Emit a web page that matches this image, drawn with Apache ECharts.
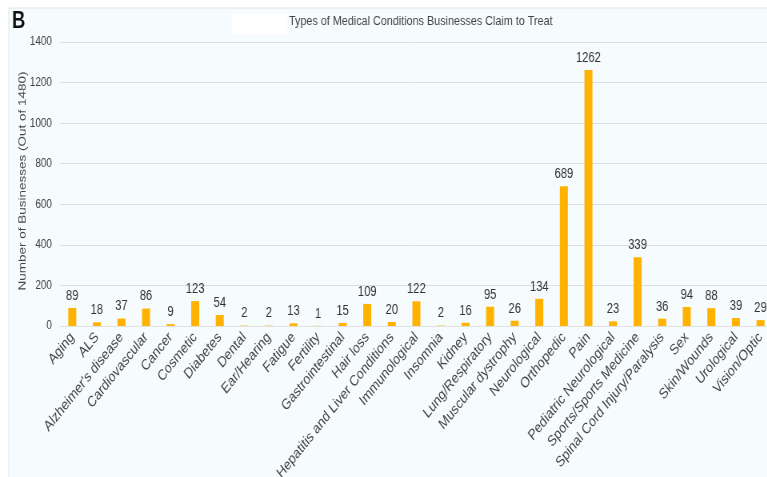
<!DOCTYPE html>
<html><head><meta charset="utf-8">
<script src="https://cdn.jsdelivr.net/npm/echarts@6/dist/echarts.min.js"></script>
<style>html,body{margin:0;padding:0;background:#fff;overflow:hidden;width:767px;height:477px}
#c{width:959px;height:477px;transform:scaleX(0.8);transform-origin:0 0}</style>
</head><body><div id="c"></div>
<script>
const categories = ["Aging","ALS","Alzheimer's disease","Cardiovascular","Cancer","Cosmetic","Diabetes","Dental","Ear/Hearing","Fatigue","Fertility","Gastrointestinal","Hair loss","Hepatitis and Liver Conditions","Immunological","Insomnia","Kidney","Lung/Respiratory","Muscular dystrophy","Neurological","Orthopedic","Pain","Pediatric Neurological","Sports/Sports Medicine","Spinal Cord Injury/Paralysis","Sex","Skin/Wounds","Urological","Vision/Optic"];
const counts = [89,18,37,86,9,123,54,2,2,13,1,15,109,20,122,2,16,95,26,134,689,1262,23,339,36,94,88,39,29];
const yTicks = {min:0, max:1400, interval:200};
const titleText = "Types of Medical Conditions Businesses Claim to Treat";
const yName = "Number of Businesses (Out of 1480)";

const F = 'Arial, "Liberation Sans", sans-serif';
const chart = echarts.init(document.getElementById('c'), null, {renderer:'canvas'});
chart.setOption({
  backgroundColor:'#ffffff',
  animation:false,
  graphic:[
    {type:'rect', z:-10, shape:{x:11,y:8,width:980,height:480}, style:{fill:'#f6fbfd', stroke:'#e2e4e6', lineWidth:1}},
    {type:'rect', z:-9, shape:{x:290,y:14,width:69,height:20}, style:{fill:'#ffffff'}},
    {type:'text', x:15, y:10, style:{text:'B', font:'bold 23px '+F, fill:'#111'}},
    {type:'text', x:28, y:181, rotation:Math.PI/2, style:{text:yName, font:'13.5px '+F, fill:'#444', align:'center', verticalAlign:'middle'}},
    {type:'text', x:526, y:21, style:{text:titleText, font:'13.5px '+F, fill:'#444', align:'center', verticalAlign:'middle'}}
  ],
  grid:{left:75, right:-7, top:42, bottom:151, containLabel:false, outerBoundsMode:'none'},
  xAxis:{type:'category', data:categories, boundaryGap:true,
    axisLine:{show:true, lineStyle:{color:'#e2e2e2'}}, axisTick:{show:false},
    axisLabel:{rotate:45, interval:0, fontSize:15, color:'#444', margin:9, fontFamily:F}},
  yAxis:{type:'value', min:yTicks.min, max:yTicks.max, interval:yTicks.interval,
    axisLine:{show:false}, axisTick:{show:false},
    axisLabel:{fontSize:12.5, color:'#444', margin:10, fontFamily:F, formatter:v=>String(v)}},
  series:[{type:'bar', data:counts, barWidth:10,
    itemStyle:{color:'#ffb300'},
    label:{show:true, position:'top', distance:5, fontSize:14, color:'#333', fontFamily:F}}]
});
</script></body></html>
